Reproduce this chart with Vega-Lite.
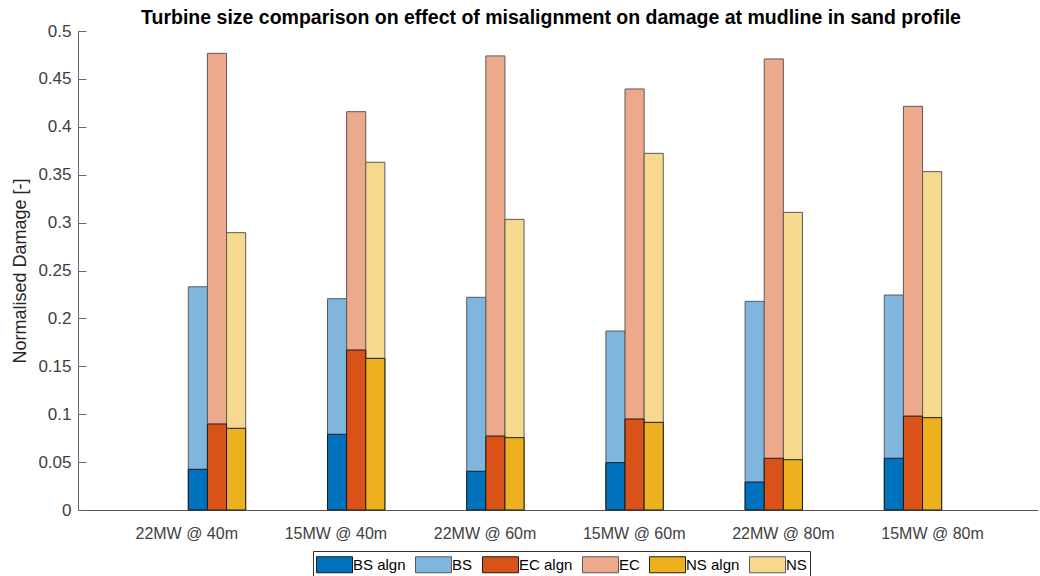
{
  "$schema": "https://vega.github.io/schema/vega-lite/v6.json",
  "width": 960,
  "height": 479,
  "autosize": {"type": "none"},
  "padding": {"left": 78, "top": 31, "right": 2, "bottom": 66},
  "background": "white",
  "config": {"view": {"stroke": null}, "font": "Liberation Sans"},
  "title": {
    "text": "Turbine size comparison on effect of misalignment on damage at mudline in sand profile",
    "fontSize": 19.5, "fontWeight": "bold", "font": "Liberation Sans", "color": "#000000",
    "frame": "group", "anchor": "middle", "offset": 6, "dy": 12, "dx": -7
  },
  "data": {"values": [
    {"case": "22MW @ 40m", "bar": "BS", "series": "BS", "value": 0.233},
    {"case": "22MW @ 40m", "bar": "EC", "series": "EC", "value": 0.4767},
    {"case": "22MW @ 40m", "bar": "NS", "series": "NS", "value": 0.2895},
    {"case": "15MW @ 40m", "bar": "BS", "series": "BS", "value": 0.2206},
    {"case": "15MW @ 40m", "bar": "EC", "series": "EC", "value": 0.4158},
    {"case": "15MW @ 40m", "bar": "NS", "series": "NS", "value": 0.363},
    {"case": "22MW @ 60m", "bar": "BS", "series": "BS", "value": 0.222},
    {"case": "22MW @ 60m", "bar": "EC", "series": "EC", "value": 0.474},
    {"case": "22MW @ 60m", "bar": "NS", "series": "NS", "value": 0.3034},
    {"case": "15MW @ 60m", "bar": "BS", "series": "BS", "value": 0.1868},
    {"case": "15MW @ 60m", "bar": "EC", "series": "EC", "value": 0.4395},
    {"case": "15MW @ 60m", "bar": "NS", "series": "NS", "value": 0.3723},
    {"case": "22MW @ 80m", "bar": "BS", "series": "BS", "value": 0.2178},
    {"case": "22MW @ 80m", "bar": "EC", "series": "EC", "value": 0.4708},
    {"case": "22MW @ 80m", "bar": "NS", "series": "NS", "value": 0.3107},
    {"case": "15MW @ 80m", "bar": "BS", "series": "BS", "value": 0.2244},
    {"case": "15MW @ 80m", "bar": "EC", "series": "EC", "value": 0.4214},
    {"case": "15MW @ 80m", "bar": "NS", "series": "NS", "value": 0.3532},
    {"case": "22MW @ 40m", "bar": "BS", "series": "BS algn", "value": 0.0425},
    {"case": "22MW @ 40m", "bar": "EC", "series": "EC algn", "value": 0.0898},
    {"case": "22MW @ 40m", "bar": "NS", "series": "NS algn", "value": 0.0853},
    {"case": "15MW @ 40m", "bar": "BS", "series": "BS algn", "value": 0.079},
    {"case": "15MW @ 40m", "bar": "EC", "series": "EC algn", "value": 0.167},
    {"case": "15MW @ 40m", "bar": "NS", "series": "NS algn", "value": 0.1583},
    {"case": "22MW @ 60m", "bar": "BS", "series": "BS algn", "value": 0.0404},
    {"case": "22MW @ 60m", "bar": "EC", "series": "EC algn", "value": 0.0772},
    {"case": "22MW @ 60m", "bar": "NS", "series": "NS algn", "value": 0.0755},
    {"case": "15MW @ 60m", "bar": "BS", "series": "BS algn", "value": 0.0494},
    {"case": "15MW @ 60m", "bar": "EC", "series": "EC algn", "value": 0.095},
    {"case": "15MW @ 60m", "bar": "NS", "series": "NS algn", "value": 0.0915},
    {"case": "22MW @ 80m", "bar": "BS", "series": "BS algn", "value": 0.0292},
    {"case": "22MW @ 80m", "bar": "EC", "series": "EC algn", "value": 0.054},
    {"case": "22MW @ 80m", "bar": "NS", "series": "NS algn", "value": 0.0525},
    {"case": "15MW @ 80m", "bar": "BS", "series": "BS algn", "value": 0.054},
    {"case": "15MW @ 80m", "bar": "EC", "series": "EC algn", "value": 0.098},
    {"case": "15MW @ 80m", "bar": "NS", "series": "NS algn", "value": 0.0964}
  ]},
  "layer": [
    {
      "mark": {"type": "bar", "strokeWidth": 1, "opacity": 1},
      "encoding": {
        "x": {
          "field": "case", "type": "nominal", "sort": null,
          "scale": {"paddingInner": 0, "paddingOuter": 0.4483, "align": 0.556},
          "axis": {"orient": "bottom", "labels": false, "ticks": false, "tickSize": 0, "title": null, "domainColor": "#555555", "grid": false}
        },
        "xOffset": {
          "field": "bar", "type": "nominal",
          "scale": {"domain": ["_a", "_b", "BS", "EC", "NS", "_c", "_d"], "paddingInner": 0, "paddingOuter": 0.14}
        },
        "y": {
          "field": "value", "type": "quantitative", "stack": null,
          "scale": {"domain": [0, 0.5], "nice": false, "zero": true},
          "axis": {
            "values": [0, 0.05, 0.1, 0.15, 0.2, 0.25, 0.3, 0.35, 0.4, 0.45, 0.5],
            "format": "~g", "grid": false,
            "tickSize": -8, "tickColor": "#666666", "domainColor": "#666666",
            "labelFontSize": 17, "labelColor": "#404040", "labelPadding": 15,
            "title": "Normalised Damage [-]", "titleFontSize": 18, "titleFontWeight": "normal",
            "titleColor": "#262626", "titlePadding": 8
          }
        },
        "color": {
          "field": "series", "type": "nominal",
          "scale": {
            "domain": ["BS algn", "BS", "EC algn", "EC", "NS algn", "NS"],
            "range": ["#0072BD", "#80B6DE", "#D95319", "#ECA98C", "#EDB120", "#F6D88F"]
          },
          "legend": {
            "orient": "none", "legendX": 235, "legendY": 520, "direction": "horizontal",
            "title": null, "symbolType": "M-1,-0.8H2.6V0.8H-1Z", "symbolSize": 400,
            "labelFontSize": 15, "labelColor": "#000000", "labelOffset": 16,
            "columnPadding": 7, "strokeColor": "#333333", "padding": 3,
            "fillColor": "white", "symbolStrokeWidth": 1, "symbolOpacity": 1
          }
        },
        "stroke": {
          "field": "series", "type": "nominal",
          "scale": {
            "domain": ["BS algn", "BS", "EC algn", "EC", "NS algn", "NS"],
            "range": ["#1a1a1a", "#5a5a5a", "#1a1a1a", "#5a5a5a", "#1a1a1a", "#5a5a5a"]
          }
        }
      }
    },
    {
      "mark": {"type": "tick", "opacity": 0},
      "encoding": {
        "x": {
          "field": "case", "type": "nominal", "sort": null,
          "scale": {"paddingInner": 0, "paddingOuter": 0.2179, "align": 0.525},
          "axis": {"orient": "bottom", "domain": false, "ticks": false, "tickSize": 0, "title": null,
            "labelFontSize": 16, "labelColor": "#404040", "labelPadding": 15, "labelAngle": 0, "grid": false}
        }
      }
    }
  ],
  "resolve": {"scale": {"x": "independent", "xOffset": "independent"}}
}
